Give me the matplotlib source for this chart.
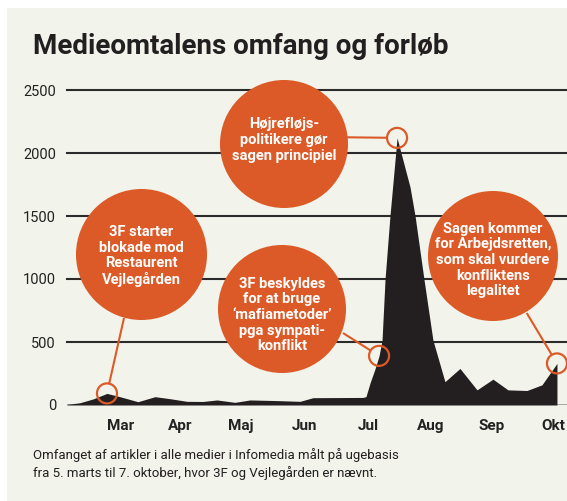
import matplotlib
matplotlib.use('Agg')
import matplotlib.pyplot as plt
from matplotlib.patches import Circle, Rectangle
import numpy as np

# weekly article counts (x in weeks after 5 March)
weeks = [0.00, 0.82, 1.65, 2.53, 3.35, 4.49, 5.57, 6.52, 7.59, 8.61, 9.49,
         10.63, 11.58, 13.29, 14.75, 15.57, 18.73, 18.92, 19.18, 19.49, 19.75,
         19.94, 20.13, 20.44, 20.89, 21.71, 22.03, 22.59, 23.16, 23.92, 24.87,
         25.95, 26.96, 27.91, 29.11, 30.06, 31.01]
articles = [5, 18, 48, 92, 66, 26, 66, 50, 29, 28, 40,
            21, 40, 35, 29, 58, 60, 66, 175, 285, 390,
            515, 1000, 1500, 2120, 1730, 1500, 1000, 515, 185, 290,
            120, 205, 120, 115, 160, 330]

month_labels = ['Mar', 'Apr', 'Maj', 'Jun', 'Jul', 'Aug', 'Sep', 'Okt']
month_pos = [3.4, 7.15, 11.0, 15.06, 19.05, 23.0, 26.9, 30.76]
y_ticks = [0, 500, 1000, 1500, 2000, 2500]

# annotations: text, index of marked point
event_texts = [
    '3F starter\nblokade mod\nRestaurent\nVejlegården',
    'Højrefløjs-\npolitikere gør\nsagen principiel',
    '3F beskyldes\nfor at bruge\n‘mafiametoder’\npga sympati-\nkonflikt',
    'Sagen kommer\nfor Arbejdsretten,\nsom skal vurdere\nkonfliktens\nlegalitet',
]
event_idx = [3, 24, 20, 36]

TITLE = 'Medieomtalens omfang og forløb'
CAPTION = ('Omfanget af artikler i alle medier i Infomedia målt på ugebasis\n'
           'fra 5. marts til 7. oktober, hvor 3F og Vejlegården er nævnt.')

BG = '#F2F3EA'
ORANGE = '#DB5A28'
INK = '#231F20'
FONT = ['Liberation Sans Narrow', 'Roboto', 'DejaVu Sans']

W, H = 567, 501
plt.rcParams['font.family'] = FONT

fig = plt.figure(figsize=(W / 100, H / 100), dpi=100, facecolor='white')
fig.patches.append(Rectangle((7 / W, 0), 1, 1 - 8 / H, transform=fig.transFigure,
                             facecolor=BG, edgecolor='none', zorder=-10))

ax = fig.add_axes([67 / W, (H - 405) / H, 1 - 67 / W, (405 - 90) / H])
ax.set_facecolor('none')
ax.set_xlim(0, (W - 67) / 15.8)
ax.set_ylim(0, 2500)
for s in ax.spines.values():
    s.set_visible(False)

for y in y_ticks[1:]:
    ax.axhline(y, color='#2b2b2b', lw=1.5, clip_on=False, zorder=1)
ax.axhline(0, color='#9a9a9a', lw=1.2, zorder=1)

x = np.array(weeks + [weeks[-1]])
y = np.array(articles + [0])
ax.fill_between(x, y, 0, color=INK, lw=0, zorder=2)

ax.set_yticks(y_ticks)
ax.set_yticklabels([str(v) for v in y_ticks], fontsize=10.5, color='#222')
ax.set_xticks(month_pos)
ax.set_xticklabels(month_labels, fontsize=11, fontweight='bold', color='#222')
ax.tick_params(axis='y', length=0, pad=8)
ax.tick_params(axis='x', length=0, pad=10)

fig.text(33 / W, 1 - 46 / H, TITLE, fontsize=20, fontweight='bold', color=INK,
         va='center', ha='left')
fig.text(33 / W, 1 - 464 / H, CAPTION, fontsize=9.5, color=INK, va='center',
         ha='left', linespacing=1.35)

# overlay in pixel coordinates for the callouts
ov = fig.add_axes([0, 0, 1, 1], zorder=5)
ov.set_xlim(0, W)
ov.set_ylim(H, 0)
ov.axis('off')

bubbles = [(141.5, 254.5, 65.5, 256), (284, 144, 64, 140),
           (282, 309, 64, 315), (493, 256, 65, 260)]
line_starts = [(124, 318), (347, 137.3), (343, 333), (526.7, 313)]

fig.canvas.draw()
for text, idx, (cx, cy, r, ty), (sx, sy) in zip(event_texts, event_idx, bubbles, line_starts):
    px, py = ax.transData.transform((weeks[idx], articles[idx]))
    py = H - py
    ov.add_patch(Circle((cx, cy), r, facecolor=ORANGE, edgecolor='none'))
    ov.text(cx, ty, text, color='white', fontsize=10.5, fontweight='bold',
            ha='center', va='center', linespacing=1.15)
    d = np.hypot(px - sx, py - sy)
    ex, ey = px - (px - sx) / d * 10, py - (py - sy) / d * 10
    ov.plot([sx, ex], [sy, ey], color=ORANGE, lw=1.5, solid_capstyle='butt')
    ov.add_patch(Circle((px, py), 10, facecolor='none', edgecolor=ORANGE, lw=1.6))

fig.savefig('out.png', dpi=100, facecolor='white')
